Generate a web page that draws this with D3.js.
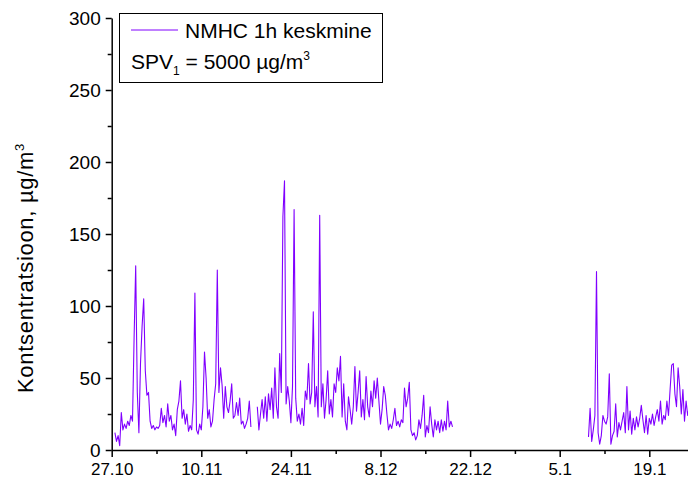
<!DOCTYPE html>
<html>
<head>
<meta charset="utf-8">
<script src="https://cdn.jsdelivr.net/npm/d3@7"></script>
<style>
  body { margin: 0; background: #fff; }
  svg { display: block; font-family: "Liberation Sans", Arial, Helvetica, sans-serif; }
</style>
</head>
<body>
<svg id="chart" width="688" height="483"></svg>
<script>
// NMHC hourly-average concentration record, sampled every 6 hours
const seriesName = "NMHC 1h keskmine";
const yTitle = "Kontsentratsioon, \u00b5g/m";
const xTickDates = ["2008-10-27", "2008-11-10", "2008-11-24", "2008-12-08", "2008-12-22", "2009-01-05", "2009-01-19"];
const xTickLabels = ["27.10", "10.11", "24.11", "8.12", "22.12", "5.1", "19.1"];
const yTicks = [0, 50, 100, 150, 200, 250, 300];
const stepHours = 6;

// first measurement period (null = missing data)
const start1 = "2008-10-27T12:00";
const values1 = [
  12, 6, 10, 3, 26, 14, 18, 15, 20, 17, 24, 20, 78, 128, 40, 12, 60, 86, 105, 55,
  38, 40, 20, 15, 17, 14, 16, 15, 17, 29, 19, 24, 16, 32, 20, 24, 14, 18, 10, 28,
  34, 48, 22, 28, 18, 25, 13, 17, 14, 35, 109, 14, 11, 18, 14, 30, 68, 50, 22, 28,
  16, 20, 35, 46, 125, 40, 57, 45, 22, 44, 30, 26, 34, 46, 22, 24, 33, 24, 36, 18,
  20, 15, 18, 22, 34, 16, null, null, null, 30, 14, 25, 35, 22, 37, 20, 39, 28, 43, 22,
  57, 30, 22, 67, 40, 162, 187, 32, 44, 34, 19, 44, 167, 36, 20, 25, 18, 29, 17, 41,
  35, 60, 32, 40, 96, 30, 44, 23, 163, 30, 46, 22, 35, 55, 25, 35, 23, 46, 40, 57,
  48, 65, 23, 46, 20, 14, 37, 28, 18, 30, 58, 27, 40, 55, 23, 35, 21, 51, 30, 23,
  41, 30, 48, 36, 50, 34, 18, 28, 44, 38, 25, 14, 18, 15, 21, 29, 17, 20, 16, 21,
  19, 43, 30, 36, 47, 14, 10, 12, 7, 10, 21, 15, 24, 38, 9, 17, 12, 30, 18, 9,
  21, 14, 20, 12, 21, 13, 20, 14, 34, 16, 20, 16
];

// second measurement period
const start2 = "2009-01-09T12:00";
const values2 = [
  9, 29, 6, 14, 24, 124, 12, 4, 10, 24, 20, 18, 23, 53, 4, 10, 13, 32, 9, 19,
  14, 20, 26, 12, 44, 14, 27, 11, 22, 14, 23, 16, 22, 31, 21, 12, 24, 11, 22, 18,
  25, 17, 23, 28, 20, 34, 18, 24, 21, 34, 24, 42, 59, 60, 39, 30, 57, 44, 25, 42,
  20, 34, 24, 30
];

const parseDay = d3.utcParse("%Y-%m-%d");
const parseTime = d3.utcParse("%Y-%m-%dT%H:%M");

function toPoints(start, values) {
  const t0 = parseTime(start);
  return values.map((v, i) => ({ t: d3.utcHour.offset(t0, i * stepHours), v }));
}
const periods = [toPoints(start1, values1), toPoints(start2, values2)];

const svg = d3.select("#chart");
const plotLeft = 111.7, plotBottom = 450, plotTop = 18, pxPerDay = 6.4;
const xStart = parseDay(xTickDates[0]);
const xEnd = d3.utcDay.offset(xStart, 98);

const x = d3.scaleUtc().domain([xStart, xEnd]).range([plotLeft, plotLeft + 98 * pxPerDay]);
const y = d3.scaleLinear().domain([0, 300]).range([plotBottom, plotTop]);

const tickDates = xTickDates.map(parseDay);
const minorDates = tickDates.map(d => d3.utcDay.offset(d, 7));
const yMinor = yTicks.slice(0, -1).map(v => v + 25);

// data line
const line = d3.line()
  .defined(d => d.v != null)
  .x(d => x(d.t))
  .y(d => y(d.v));

svg.append("g")
  .selectAll("path")
  .data(periods)
  .join("path")
  .attr("d", line)
  .attr("fill", "none")
  .attr("stroke", "#8000ff")
  .attr("stroke-width", 1.1)
  .attr("stroke-linejoin", "round");

// x axis
const xAxis = svg.append("g").attr("transform", `translate(0,${plotBottom})`);
xAxis.call(d3.axisBottom(x)
  .tickValues(tickDates)
  .tickFormat((d, i) => xTickLabels[i])
  .tickSize(7).tickSizeOuter(0).tickPadding(6));
xAxis.append("g").call(d3.axisBottom(x)
  .tickValues(minorDates).tickFormat("")
  .tickSize(4).tickSizeOuter(0))
  .select(".domain").remove();
xAxis.selectAll(".tick text").attr("font-size", 17);

// y axis
const yAxis = svg.append("g").attr("transform", `translate(${plotLeft},0)`);
yAxis.call(d3.axisLeft(y)
  .tickValues(yTicks)
  .tickSize(6).tickSizeOuter(0).tickPadding(5));
yAxis.append("g").call(d3.axisLeft(y)
  .tickValues(yMinor).tickFormat("")
  .tickSize(4).tickSizeOuter(0))
  .select(".domain").remove();
yAxis.selectAll(".tick text").attr("font-size", 19);

svg.selectAll(".domain").attr("stroke", "#000").attr("stroke-width", 1.5);
svg.selectAll(".tick line").attr("stroke", "#000").attr("stroke-width", 1.5);
svg.selectAll(".tick text")
  .attr("fill", "#000")
  .attr("font-family", "\"Liberation Sans\", Arial, sans-serif");

// y axis title
const title = svg.append("text")
  .attr("transform", "translate(33,393) rotate(-90)")
  .attr("font-size", 22)
  .attr("letter-spacing", 0.7)
  .attr("fill", "#000")
  .attr("text-anchor", "start");
title.append("tspan").text(yTitle);
title.append("tspan").attr("dy", -9).attr("font-size", 13).text("3");

// legend
const legend = svg.append("g");
legend.append("rect")
  .attr("x", 119.5).attr("y", 13.5).attr("width", 263).attr("height", 69)
  .attr("fill", "#fff").attr("stroke", "#000").attr("stroke-width", 1);
legend.append("line")
  .attr("x1", 131).attr("x2", 178).attr("y1", 30).attr("y2", 30)
  .attr("stroke", "#8000ff").attr("stroke-width", 1);
legend.append("text")
  .attr("x", 185).attr("y", 37.5)
  .attr("font-size", 21).attr("fill", "#000")
  .text(seriesName);
const spv = legend.append("text")
  .attr("x", 131).attr("y", 68.5)
  .attr("font-size", 21).attr("fill", "#000");
spv.append("tspan").text("SPV");
spv.append("tspan").attr("dy", 6).attr("font-size", 12).text("1");
spv.append("tspan").attr("dy", -6).text(" = 5000 \u00b5g/m");
spv.append("tspan").attr("dy", -9).attr("font-size", 12).text("3");
</script>
</body>
</html>
